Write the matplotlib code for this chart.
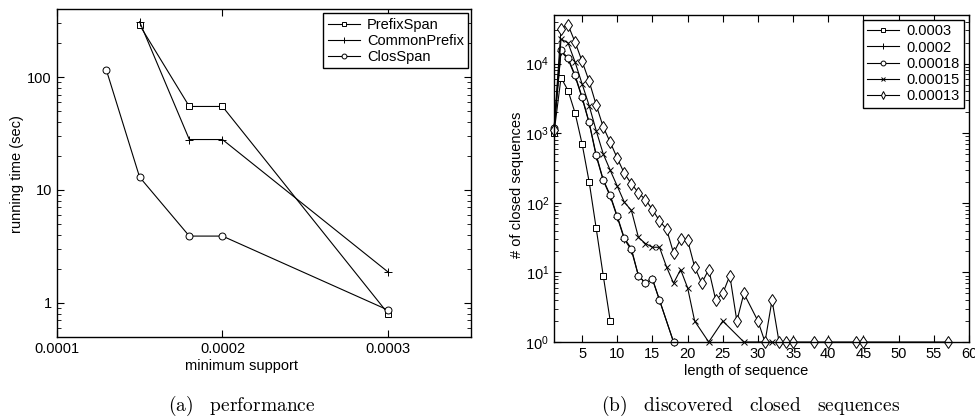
import numpy as np
import matplotlib.pyplot as plt

plt.rcParams['font.family'] = ['Liberation Sans', 'DejaVu Sans']
plt.rcParams['mathtext.fontset'] = 'cm'

# (a) running time vs minimum support
support = [0.00015, 0.00018, 0.0002, 0.0003]
prefixspan = [290, 55, 55, 0.8]
commonprefix = [310, 28, 28, 1.87]
closspan_support = [0.00013, 0.00015, 0.00018, 0.0002, 0.0003]
closspan = [115, 13, 3.9, 3.9, 0.86]

# (b) number of closed sequences vs length
len_0003 = [1, 2, 3, 4, 5, 6, 7, 8, 9]
cnt_0003 = [1000, 6300, 4100, 1950, 700, 200, 43, 9, 2]
len_0002 = [1, 2, 3, 4, 5, 6, 7, 8, 9, 10, 11, 12, 13, 14, 15, 16, 18]
cnt_0002 = [1100, 15000, 11600, 6600, 3200, 1400, 470, 210, 124, 62, 30, 21, 9, 7, 8, 4, 1]
len_00018 = [1, 2, 3, 4, 5, 6, 7, 8, 9, 10, 11, 12, 13, 14, 15, 16, 18]
cnt_00018 = [1200, 15500, 12000, 6800, 3300, 1430, 490, 215, 128, 64, 31, 22, 9, 7, 8, 4, 1]
len_00015 = [1, 2, 3, 4, 5, 6, 7, 8, 9, 10, 11, 12, 13, 14, 15, 16, 17, 18, 19, 20, 21, 23, 25, 28, 32]
cnt_00015 = [1100, 22600, 19800, 10500, 5100, 2490, 1090, 505, 293, 173, 102, 78, 32, 26, 23, 23,
             12, 7, 11, 6, 2, 1, 2, 1, 1]
len_00013 = list(range(1, 29)) + [30, 31, 32, 33, 34, 35, 38, 40, 44, 45, 57]
cnt_00013 = [1100, 31800, 36000, 20300, 10800, 5570, 2550, 1230, 740, 437,
             265, 188, 140, 111, 80, 55, 42, 19, 30, 29,
             12, 7, 11, 4, 5, 9, 2, 5, 2, 1, 4, 1, 1, 1, 1, 1, 1, 1, 1]

fig = plt.figure(figsize=(9.75, 4.18), dpi=100)
ax1 = fig.add_axes([0.0582, 0.1945, 0.4249, 0.7833])
ax2 = fig.add_axes([0.5682, 0.1818, 0.4256, 0.7823])

line_kw = dict(color='black', lw=0.8, markerfacecolor='white', markeredgewidth=0.7, clip_on=False)

ax1.plot(support, prefixspan, marker='s', ms=4, label='PrefixSpan', **line_kw)
ax1.plot(support, commonprefix, marker='+', ms=6, label='CommonPrefix', **line_kw)
ax1.plot(closspan_support, closspan, marker='o', ms=5, label='ClosSpan', **line_kw)
ax1.set_yscale('log')
ax1.set_xlim(0.0001, 0.00035)
ax1.set_ylim(0.5, 400)
ax1.set_xticks([0.0001, 0.0002, 0.0003])
ax1.set_xticklabels(['0.0001', '0.0002', '0.0003'])
ax1.set_yticks([1, 10, 100])
ax1.set_yticklabels(['1', '10', '100'])
ax1.set_xlabel('minimum support', fontsize=10.5)
ax1.set_ylabel('running time (sec)', fontsize=10.5)
ax1.xaxis.set_label_coords(0.447, -0.069)
ax1.yaxis.set_label_coords(-0.08, 0.497)

ax2.plot(len_0003, cnt_0003, marker='s', ms=4, label='0.0003', **line_kw)
ax2.plot(len_0002, cnt_0002, marker='+', ms=6, label='0.0002', **line_kw)
ax2.plot(len_00018, cnt_00018, marker='o', ms=5, label='0.00018', **line_kw)
ax2.plot(len_00015, cnt_00015, marker='x', ms=4, label='0.00015', **line_kw)
ax2.plot(len_00013, cnt_00013, marker='d', ms=6, label='0.00013', **line_kw)
ax2.set_yscale('log')
ax2.set_xlim(1, 60)
ax2.set_ylim(1, 50000)
ax2.set_xticks(np.arange(5, 61, 5))
ax2.set_xlabel('length of sequence', fontsize=10.5)
ax2.set_ylabel('# of closed sequences', fontsize=10.5)
ax2.xaxis.set_label_coords(0.464, -0.067)
ax2.yaxis.set_label_coords(-0.072, 0.48)

for ax in (ax1, ax2):
    ax.tick_params(which='both', direction='in', top=True, right=True, labelsize=10.5)
    ax.tick_params(which='major', length=5, width=0.8)
    ax.tick_params(which='minor', length=3, width=0.6)
    ax.tick_params(axis='x', which='minor', top=False, bottom=False)
    for s in ax.spines.values():
        s.set_linewidth(1.0)

leg_kw = dict(loc='upper right', bbox_transform=fig.transFigure, borderaxespad=0, fancybox=False,
              edgecolor='black', framealpha=1, fontsize=10.5, handlelength=2.2, handletextpad=0.5,
              labelspacing=0.15, markerscale=0.7, borderpad=0.3)
l1 = ax1.legend(bbox_to_anchor=(468.3 / 975, 1 - 13.3 / 418), **leg_kw)
l2 = ax2.legend(bbox_to_anchor=(964 / 975, 1 - 20 / 418), **leg_kw)
for l in (l1, l2):
    l.get_frame().set_linewidth(1.0)

fig.text(241.5 / 975, 1 - 406 / 418, r'$\mathrm{(a)\quad performance}$', ha='center', va='center', fontsize=14)
fig.text(750.5 / 975, 1 - 406 / 418, r'$\mathrm{(b)\quad discovered\quad closed\quad sequences}$',
         ha='center', va='center', fontsize=14)

fig.savefig('out.png', dpi=100)
